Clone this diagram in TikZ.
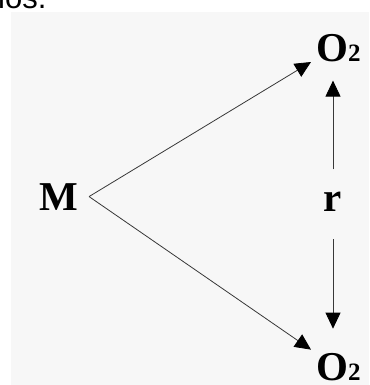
\documentclass[tikz,border=0pt]{standalone}
\usepackage{fontspec}
\setmainfont{Liberation Serif}
\newfontfamily\capsans{Liberation Sans}
\usetikzlibrary{arrows.meta}
\definecolor{panel}{HTML}{F7F7F7}
\definecolor{lineclr}{HTML}{383838}
\tikzset{
  lbl/.style={inner sep=0pt, font=\bfseries\fontsize{41}{43}\selectfont, text=black},
  conn/.style={draw=lineclr, line width=0.8pt, -{Triangle[length=16pt,width=15pt,fill=black,color=black]}},
}
\newcommand{\Otwo}{O{\fontsize{25}{27}\selectfont 2}}
\begin{document}
\begin{tikzpicture}[x=1pt,y=-1pt]
\useasboundingbox (0,0) rectangle (369,385);
\fill[white] (0,0) rectangle (369,385);
\fill[panel] (11,12) rectangle (369,385);
\begin{scope}
\clip (0,0) rectangle (369,12);
\node[inner sep=0pt, anchor=base west, font=\capsans\fontsize{31}{33}\selectfont] (cap) at (-2,9) {los.};
\end{scope}
\node[lbl, anchor=base, inner xsep=11pt] (M) at (58.5,210) {M};
\node[lbl, anchor=base west] (Otop) at (316,62) {\Otwo};
\node[lbl, anchor=base west] (Obot) at (316,380) {\Otwo};
\node[lbl, anchor=base] (r) at (333,211) {r};
\draw[conn] (M.east) -- ([xshift=-5pt]Otop.base west);
\draw[conn] (M.east) -- ([xshift=-5pt,yshift=3pt]Obot.north west);
\draw[conn] ([yshift=22pt]r.north) -- ([yshift=-18pt]r.north |- Otop.south);
\draw[conn] ([yshift=-28pt]r.south) -- ([yshift=24pt]r.south |- Obot.north);
\end{tikzpicture}
\end{document}
